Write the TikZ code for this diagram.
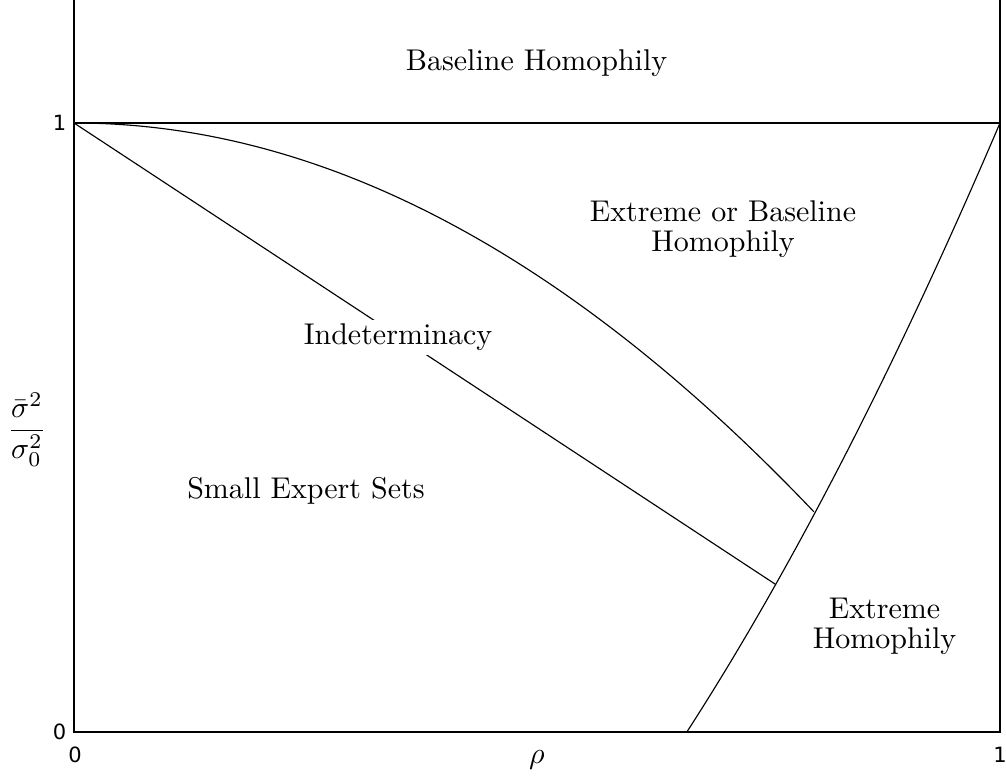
\documentclass[tikz,border=0pt]{standalone}
\usepackage{fontspec}
\newfontfamily\tickfont{DejaVu Sans}
\begin{document}
\begin{tikzpicture}[x=308.667pt,y=203pt,
  curve/.style={line width=0.38pt},
  axisline/.style={line width=0.42pt},
  region/.style={inner sep=0pt, font=\fontsize{10}{10}\selectfont, align=center},
  ticklab/.style={inner sep=0pt, font=\tickfont\fontsize{7}{8}\selectfont}]
\useasboundingbox (-0.07991,-0.08210) rectangle (1.00648,1.20197);
\pgfmathsetmacro{\aa}{0.438}
% axes and frame
\coordinate (o) at (0,0);
\coordinate (r) at (1,0);
\coordinate (lt) at (0,1.202);
\coordinate (rt) at (1,1.202);
\coordinate (one) at (0,1);
\coordinate (rone) at (1,1);
\draw[axisline] (lt) -- (o) -- (r) -- (rt);
\draw[curve] (one) -- (rone);
% boundary curves
\draw[curve] (one) -- (0.7577,0.2423);
\draw[curve] plot[domain=0:0.8001, samples=120, smooth] (\x,{1-\x*\x});
\draw[curve] plot[domain=0.66182:1, samples=80, smooth] (\x,{(\x*\x-\aa)/(1-\aa)});
% region labels
\node[region, anchor=base] (base) at (0.4995,1.0854) {Baseline Homophily};
\node[region] (exbase) at (0.7009,0.8250) {Extreme or Baseline\\Homophily};
\node[region, anchor=base, fill=white, inner xsep=1pt, inner ysep=1.3pt] (indet) at (0.3499,0.6355) {Indeterminacy};
\node[region, anchor=base] (small) at (0.2505,0.3842) {Small Expert Sets};
\node[region] (extreme) at (0.8753,0.1731) {Extreme\\Homophily};
% ticks
\node[ticklab] (y1) at (-0.01566,1) {1};
\node[ticklab] (y0) at (-0.01566,0) {0};
\node[ticklab] (x0) at (0.001,-0.0378) {0};
\node[ticklab] (x1) at (1.0,-0.0378) {1};
% axis labels
\node[inner sep=0pt] (xlab) at (0.5,-0.0452) {$\rho$};
\node[inner sep=0pt] (ylab) at (-0.05076,0.4959) {$\displaystyle\frac{\bar\sigma^2}{\sigma_0^2}$};
\end{tikzpicture}
\end{document}
